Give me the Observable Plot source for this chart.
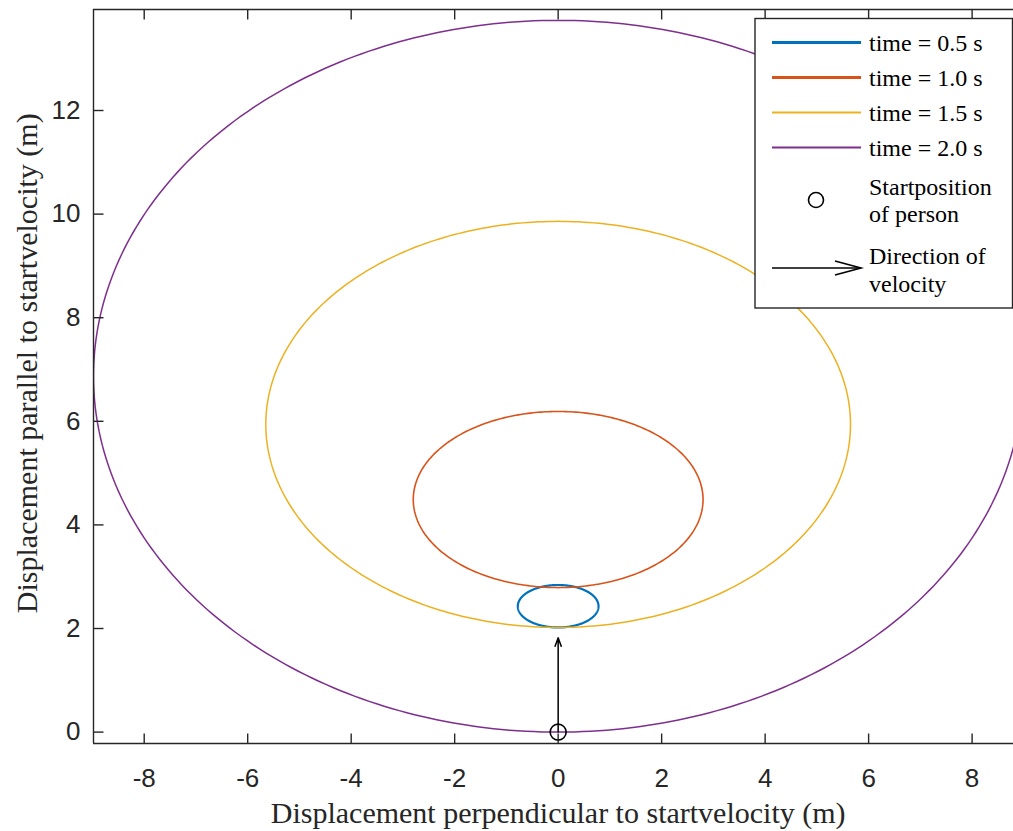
<!DOCTYPE html>
<html><head><meta charset="utf-8">
<script src="https://cdn.jsdelivr.net/npm/d3@7"></script>
<script src="https://cdn.jsdelivr.net/npm/@observablehq/plot@0.6"></script>
<style>
body{margin:0;background:#fff;overflow:hidden;}
#wrap{position:relative;width:1013px;height:831px;}
#legend{position:absolute;left:0;top:0;pointer-events:none;}
</style></head><body><div id="wrap"></div>
<script>
// Series: each curve is an ellipse (centre and half-axes, metres)
const seriesLabels = ["time = 0.5 s", "time = 1.0 s", "time = 1.5 s", "time = 2.0 s"];
const centerX = [0, 0, 0, 0];
const centerY = [2.43, 4.49, 5.94, 6.87];
const halfWidth = [0.78, 2.80, 5.65, 8.98];
const halfHeight = [0.41, 1.70, 3.92, 6.87];
const colors = ["#0072BD", "#D95319", "#EDB120", "#7E2F8E"];
const lineWidths = [2.2, 1.6, 1.5, 1.5];

const startX = [0];
const startY = [0];
const velocityTipY = [1.82];

const xTicks = [-8, -6, -4, -2, 0, 2, 4, 6, 8];
const yTicks = [0, 2, 4, 6, 8, 10, 12];
const xDomain = [-8.98, 8.80];
const yDomain = [-0.22, 13.95];

const xLabel = "Displacement perpendicular to startvelocity (m)";
const yLabel = "Displacement parallel to startvelocity (m)";
const legendExtra = [["Startposition", "of person"], ["Direction of", "velocity"]];

// outline of each ellipse
const outlines = seriesLabels.map((s, i) =>
  d3.range(0, 361).map(a => {
    const t = a * Math.PI / 180;
    return {x: centerX[i] + halfWidth[i] * Math.cos(t), y: centerY[i] + halfHeight[i] * Math.sin(t)};
  })
);

const axisColor = "#262626";
const serif = "'Liberation Serif', 'Times New Roman', serif";
const tickUp = {draw(c) { c.moveTo(0, 0); c.lineTo(0, -10); }};
const tickDown = {draw(c) { c.moveTo(0, 0); c.lineTo(0, 10); }};
const tickRight = {draw(c) { c.moveTo(0, 0); c.lineTo(10, 0); }};

const chart = Plot.plot({
  width: 1013,
  height: 831,
  marginLeft: 93,
  marginRight: 0,
  marginTop: 9,
  marginBottom: 88,
  style: {fontFamily: "'Liberation Sans', Arial, sans-serif", fontSize: "26px", color: axisColor, background: "white"},
  x: {domain: xDomain},
  y: {domain: yDomain},
  marks: [
    ...outlines.map((pts, i) => Plot.line(pts, {x: "x", y: "y", stroke: colors[i], strokeWidth: lineWidths[i], clip: true})),
    Plot.arrow(startX, {x1: d => d, y1: (d, i) => startY[i], x2: d => d, y2: (d, i) => velocityTipY[i], stroke: "black", strokeWidth: 1.5, headLength: 9, headAngle: 40}),
    Plot.dot(startX, {x: d => d, y: (d, i) => startY[i], r: 8, stroke: "black", strokeWidth: 1.6, fill: "none"}),
    // box
    Plot.ruleY([yDomain[0], yDomain[1]], {stroke: axisColor, strokeWidth: 1.4}),
    Plot.ruleX([xDomain[0]], {stroke: axisColor, strokeWidth: 1.4}),
    // inward ticks
    Plot.dot(xTicks, {x: d => d, y: yDomain[0], symbol: tickUp, stroke: axisColor, strokeWidth: 1.4, fill: "none"}),
    Plot.dot(xTicks, {x: d => d, y: yDomain[1], symbol: tickDown, stroke: axisColor, strokeWidth: 1.4, fill: "none"}),
    Plot.dot(yTicks, {y: d => d, x: xDomain[0], symbol: tickRight, stroke: axisColor, strokeWidth: 1.4, fill: "none"}),
    Plot.axisX({ticks: xTicks, tickSize: 0, tickPadding: 25, label: null, fontSize: 26, tickFormat: d => String(d)}),
    Plot.axisY({ticks: yTicks, tickSize: 0, tickPadding: 13, label: null, fontSize: 26, tickFormat: d => String(d)}),
    Plot.text([xLabel], {x: 0, frameAnchor: "bottom", dy: 70, lineAnchor: "middle", textAnchor: "middle", text: d => d, fontFamily: serif, fontSize: 30, fill: axisColor}),
    Plot.text([yLabel], {y: 7.12, frameAnchor: "left", dx: -66, rotate: -90, lineAnchor: "middle", textAnchor: "middle", text: d => d, fontFamily: serif, fontSize: 30, fill: axisColor})
  ]
});
document.getElementById("wrap").appendChild(chart);

// Legend box (overlay)
const lg = d3.select("#wrap").append("svg").attr("id", "legend").attr("width", 1013).attr("height", 831);
lg.append("rect").attr("x", 755).attr("y", 18.5).attr("width", 257.5).attr("height", 289.5)
  .attr("fill", "white").attr("stroke", axisColor).attr("stroke-width", 1.4);
const rowY = [42.5, 77.5, 112.5, 147.5];
seriesLabels.forEach((s, i) => {
  lg.append("line").attr("x1", 772).attr("x2", 861).attr("y1", rowY[i]).attr("y2", rowY[i])
    .attr("stroke", colors[i]).attr("stroke-width", i < 2 ? 3 : 2);
  lg.append("text").attr("x", 869).attr("y", rowY[i]).attr("dy", "0.35em")
    .attr("font-family", serif).attr("font-size", 24).attr("fill", "black").text(s);
});
lg.append("circle").attr("cx", 816).attr("cy", 200).attr("r", 7.5).attr("fill", "none").attr("stroke", "black").attr("stroke-width", 1.6);
legendExtra[0].forEach((t, j) => lg.append("text").attr("x", 869).attr("y", 187 + j * 27).attr("dy", "0.35em")
  .attr("font-family", serif).attr("font-size", 24).attr("fill", "black").text(t));
lg.append("line").attr("x1", 772).attr("x2", 861).attr("y1", 268).attr("y2", 268).attr("stroke", "black").attr("stroke-width", 1.6);
lg.append("path").attr("d", "M835,261 L861,268 L835,275").attr("fill", "none").attr("stroke", "black").attr("stroke-width", 1.6);
legendExtra[1].forEach((t, j) => lg.append("text").attr("x", 869).attr("y", 256 + j * 28).attr("dy", "0.35em")
  .attr("font-family", serif).attr("font-size", 24).attr("fill", "black").text(t));
</script></body></html>
